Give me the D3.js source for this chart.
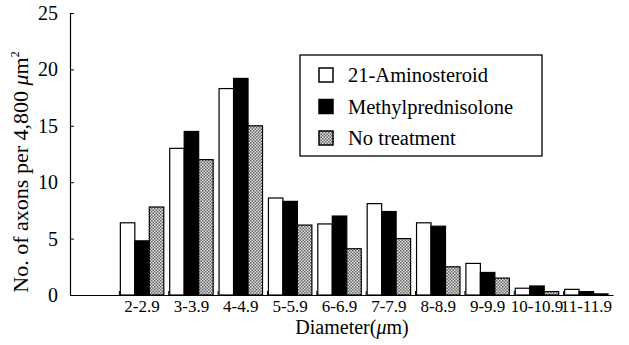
<!DOCTYPE html>
<html>
<head>
<meta charset="utf-8">
<script src="https://cdn.jsdelivr.net/npm/d3@7"></script>
<style>
  body { margin: 0; background: #fff; }
</style>
</head>
<body>
<svg id="chart" width="629" height="345" font-family="Liberation Serif"></svg>
<script>
// categories (first slot is empty in the original figure)
var categories = ["", "2-2.9", "3-3.9", "4-4.9", "5-5.9", "6-6.9", "7-7.9", "8-8.9", "9-9.9", "10-10.9", "11-11.9"];
var seriesNames = ["21-Aminosteroid", "Methylprednisolone", "No treatment"];
var aminosteroid = [null, 6.4, 13.0, 18.3, 8.6, 6.3, 8.1, 6.4, 2.8, 0.6, 0.5];
var methylpred = [null, 4.8, 14.5, 19.2, 8.3, 7.0, 7.4, 6.1, 2.0, 0.8, 0.3];
var noTreatment = [null, 7.8, 12.0, 15.0, 6.2, 4.1, 5.0, 2.5, 1.5, 0.3, 0.1];
var yTicks = [0, 5, 10, 15, 20, 25];

var FONT = "Liberation Serif";
var svg = d3.select("#chart");
var margin = { top: 13, right: 16, bottom: 50, left: 70 },
    width = 629 - margin.left - margin.right,
    height = 345 - margin.top - margin.bottom;

// checker pattern for "No treatment"
var defs = svg.append("defs");
var pat = defs.append("pattern")
    .attr("id", "dots")
    .attr("width", 3).attr("height", 3)
    .attr("patternUnits", "userSpaceOnUse");
pat.append("rect").attr("width", 3).attr("height", 3).attr("fill", "#e0e0e0");
pat.append("rect").attr("width", 1.5).attr("height", 1.5).attr("fill", "#666");
pat.append("rect").attr("x", 1.5).attr("y", 1.5).attr("width", 1.5).attr("height", 1.5).attr("fill", "#666");

var fills = ["#fff", "#000", "url(#dots)"];

var g = svg.append("g")
    .attr("transform", "translate(" + margin.left + "," + margin.top + ")");

var x = d3.scaleBand()
    .domain(categories.map(function (d, i) { return i; }))
    .range([0, width])
    .paddingInner(0)
    .paddingOuter(0);

var y = d3.scaleLinear()
    .domain([0, 25])
    .range([height, 0]);

var inner = d3.scaleBand()
    .domain([0, 1, 2])
    .range([0, x.bandwidth() * 0.88]);

var rows = [];
categories.forEach(function (c, i) {
    [aminosteroid, methylpred, noTreatment].forEach(function (s, k) {
        if (s[i] != null) rows.push({ cat: i, series: k, value: s[i] });
    });
});

// bars
g.append("g")
    .selectAll("rect")
    .data(rows)
    .enter()
    .append("rect")
    .attr("x", function (d) { return x(d.cat) + x.bandwidth() * 0.02 + inner(d.series); })
    .attr("y", function (d) { return y(d.value); })
    .attr("width", inner.bandwidth())
    .attr("height", function (d) { return y(0) - y(d.value); })
    .attr("fill", function (d) { return fills[d.series]; })
    .attr("stroke", "#000")
    .attr("stroke-width", 1.2);

// Y axis
var yAxis = g.append("g")
    .call(d3.axisLeft(y).tickValues(yTicks).tickSize(-4).tickPadding(12));
yAxis.attr("font-family", FONT);
yAxis.select(".domain").attr("stroke-width", 1.2);
yAxis.selectAll("text").attr("font-family", FONT).attr("font-size", 20).attr("fill", "#000");

// X axis
var xAxis = g.append("g")
    .attr("transform", "translate(0," + height + ")")
    .call(d3.axisBottom(x).tickSize(0).tickPadding(5)
        .tickFormat(function (i) { return categories[i]; }));
xAxis.attr("font-family", FONT);
xAxis.select(".domain").attr("stroke-width", 1.2);
xAxis.selectAll("text")
    .attr("font-family", FONT)
    .attr("font-size", 17)
    .attr("fill", "#000")
    .attr("transform", "translate(" + (-x.bandwidth() * 0.04) + ",0)");

// little upward ticks between groups
g.append("g")
    .selectAll("line")
    .data(categories.slice(1).map(function (d, i) { return i + 1; }))
    .enter()
    .append("line")
    .attr("x1", function (i) { return x(i); })
    .attr("x2", function (i) { return x(i); })
    .attr("y1", height)
    .attr("y2", height - 4)
    .attr("stroke", "#000");

// axis titles
svg.append("text")
    .attr("transform", "translate(28,172) rotate(-90)")
    .attr("text-anchor", "middle")
    .attr("font-family", FONT)
    .attr("font-size", 22)
    .html('No. of axons per 4,800 <tspan font-style="italic">μ</tspan>m<tspan font-size="12" dy="-9">2</tspan>');

svg.append("text")
    .attr("x", 352)
    .attr("y", 334)
    .attr("text-anchor", "middle")
    .attr("font-family", FONT)
    .attr("font-size", 20)
    .html('Diameter(<tspan font-style="italic">μ</tspan>m)');

// legend
var legend = svg.append("g").attr("transform", "translate(300,55)");
legend.append("rect")
    .attr("width", 242).attr("height", 101)
    .attr("fill", "#fff").attr("stroke", "#000").attr("stroke-width", 1.3);
seriesNames.forEach(function (name, k) {
    var row = legend.append("g").attr("transform", "translate(19," + (20 + k * 31.5) + ")");
    row.append("rect")
        .attr("width", 14).attr("height", 14).attr("y", -7)
        .attr("fill", fills[k]).attr("stroke", "#000").attr("stroke-width", 1.5);
    row.append("text")
        .attr("x", 29).attr("y", 7)
        .attr("font-family", FONT)
        .attr("font-size", 20.5)
        .text(name);
});
</script>
</body>
</html>
